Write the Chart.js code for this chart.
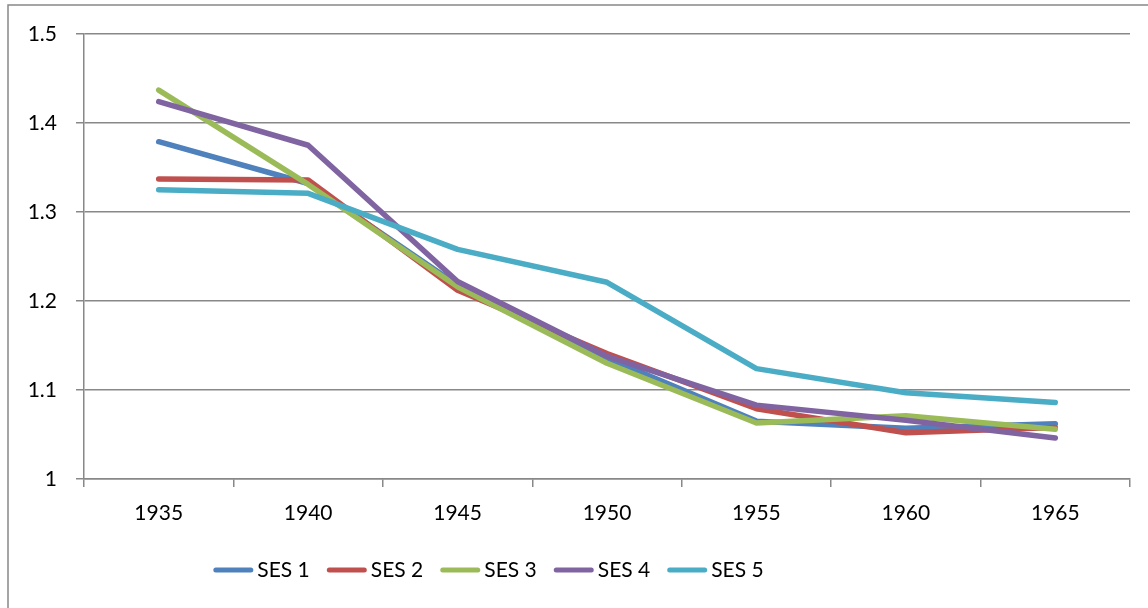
<!DOCTYPE html>
<html>
<head>
<meta charset="utf-8">
<script src="https://cdn.jsdelivr.net/npm/chart.js@4/dist/chart.umd.min.js"></script>
<style>
  html, body { margin: 0; padding: 0; background: #fff; overflow: hidden; }
  #wrap { position: relative; width: 1148px; height: 608px; }
</style>
</head>
<body>
<div id="wrap"><canvas id="c" width="1148" height="608"></canvas></div>
<script>
const years = ['1935', '1940', '1945', '1950', '1955', '1960', '1965'];
const ses1 = [1.379, 1.332, 1.218, 1.136, 1.065, 1.057, 1.062];
const ses2 = [1.337, 1.336, 1.212, 1.141, 1.079, 1.052, 1.058];
const ses3 = [1.437, 1.331, 1.216, 1.130, 1.063, 1.071, 1.056];
const ses4 = [1.424, 1.375, 1.222, 1.138, 1.083, 1.066, 1.046];
const ses5 = [1.325, 1.321, 1.258, 1.221, 1.124, 1.097, 1.086];
const seriesNames = ['SES 1', 'SES 2', 'SES 3', 'SES 4', 'SES 5'];
const seriesData = [ses1, ses2, ses3, ses4, ses5];
const seriesColors = ['#4F81BD', '#C0504D', '#9BBB59', '#8064A2', '#4BACC6'];
const yTicks = [1, 1.1, 1.2, 1.3, 1.4, 1.5];

const GRID = '#888888';
const FONT = 'Lato, "Open Sans", sans-serif';
Chart.defaults.font.family = FONT;
Chart.defaults.color = '#000';

const framePlugin = {
  id: 'frame',
  beforeDraw(chart) {
    const ctx = chart.ctx;
    ctx.save();
    ctx.strokeStyle = GRID;
    ctx.lineWidth = 1.5;
    ctx.strokeRect(8, 5, 1300, 800);
    ctx.restore();
  }
};

// Legend drawn from the dataset list (Excel-like: short line sample, tight text)
const lineLegend = {
  id: 'lineLegend',
  afterDraw(chart) {
    const ctx = chart.ctx;
    const ds = chart.data.datasets;
    ctx.save();
    ctx.font = '21px ' + FONT;
    ctx.textBaseline = 'middle';
    ctx.textAlign = 'left';
    const box = 40, gapText = 4, gap = 17, centerX = 488.5, cy = 570;
    const widths = ds.map(d => box + gapText + ctx.measureText(d.label).width);
    const total = widths.reduce((a, b) => a + b, 0) + gap * (ds.length - 1);
    let x = centerX - total / 2;
    ds.forEach((d, i) => {
      ctx.strokeStyle = d.borderColor;
      ctx.lineWidth = 5;
      ctx.lineCap = 'round';
      ctx.beginPath();
      ctx.moveTo(x + 2.5, cy);
      ctx.lineTo(x + box - 2.5, cy);
      ctx.stroke();
      ctx.fillStyle = '#000';
      ctx.fillText(d.label, x + box + gapText, cy);
      x += widths[i] + gap;
    });
    ctx.restore();
  }
};

new Chart(document.getElementById('c'), {
  type: 'line',
  data: {
    labels: years,
    datasets: seriesData.map((d, i) => ({
      label: seriesNames[i],
      data: d,
      borderColor: seriesColors[i],
      backgroundColor: seriesColors[i],
      borderWidth: 5.5,
      borderCapStyle: 'round',
      borderJoinStyle: 'round',
      pointRadius: 0,
      tension: 0,
      fill: false,
      order: seriesNames.length - i
    }))
  },
  options: {
    responsive: false,
    animation: false,
    layout: { padding: { left: 10, right: 18, top: 34, bottom: 49 } },
    plugins: {
      tooltip: { enabled: false },
      legend: { display: false }
    },
    scales: {
      x: {
        type: 'category',
        offset: true,
        grid: { display: true, drawOnChartArea: false, drawTicks: true, tickLength: 8, offset: true, color: GRID, lineWidth: 1.5 },
        border: { display: true, color: GRID, width: 1.5 },
        ticks: { font: { size: 21 }, color: '#000', padding: 14, maxRotation: 0 },
        afterFit(scale) { scale.height = 80; }
      },
      y: {
        min: 1,
        max: 1.5,
        afterBuildTicks(scale) { scale.ticks = yTicks.map(v => ({ value: v })); },
        grid: { color: GRID, lineWidth: 1.5, tickLength: 8 },
        border: { display: true, color: GRID, width: 1.5 },
        ticks: {
          font: { size: 21 },
          color: '#000',
          padding: 19,
          callback: v => String(+v.toFixed(1))
        },
        afterFit(scale) { scale.width = 74; }
      }
    }
  },
  plugins: [framePlugin, lineLegend]
});
</script>
</body>
</html>
